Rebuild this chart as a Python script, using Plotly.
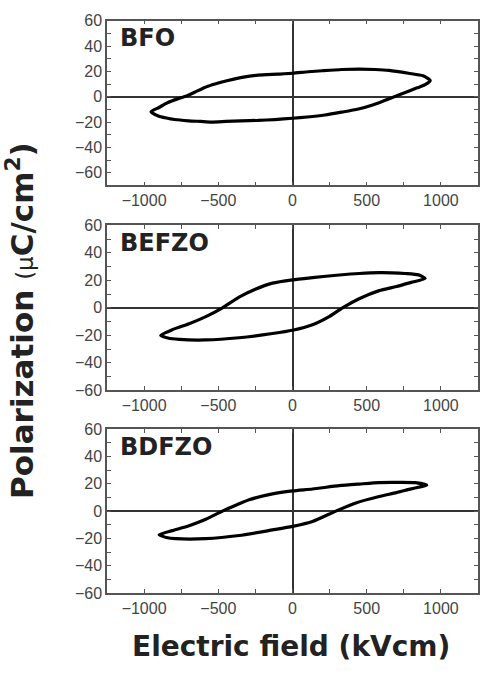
import plotly.graph_objects as go

W, H = 489, 680

# ---- data ----
bfo_E = [928, 880, 782, 650, 556, 450, 331, 200, 106, 0, -100, -232, -330, -435, -500, -570, -640, -705, -770, -840, -900, -953,
         -908, -850, -795, -700, -620, -547, -450, -350, -232, -120, 0, 100, 218, 330, 444, 540, 620, 669, 720, 782, 840, 894, 928]
bfo_P = [12.8, 16.5, 18.5, 20.8, 21.5, 21.8, 21.5, 20.5, 19.7, 18.5, 17.8, 17.0, 15.5, 12.8, 10.8, 8.2, 4.6, 1.0, -1.5, -4.6, -8.5, -11.8,
         -15.0, -16.8, -18.0, -19.0, -19.5, -20.0, -19.5, -19.0, -18.7, -18.0, -17.0, -16.0, -14.4, -12.2, -9.7, -6.5, -3.0, -0.8, 1.5, 4.4, 7.0, 9.5, 12.8]

befzo_E = [894, 849, 760, 669, 584, 450, 315, 135, 0, -135, -247, -360, -472, -584, -697, -809, -888,
           -840, -764, -584, -360, -135, 0, 135, 247, 337, 449, 584, 700, 800, 894]
befzo_P = [21.4, 24.0, 25.0, 25.5, 25.6, 25.0, 23.9, 22.0, 20.4, 18.0, 13.7, 7.8, 0.0, -6.4, -11.6, -15.9, -20.1,
           -22.0, -23.0, -23.4, -21.8, -18.7, -16.3, -12.3, -6.4, 0.0, 6.6, 12.5, 15.5, 18.5, 21.4]

bdfzo_E = [905, 827, 700, 584, 450, 315, 135, 0, -135, -292, -382, -472, -584, -697, -809, -899,
           -850, -787, -584, -360, -135, 0, 135, 292, 427, 584, 700, 800, 905]
bdfzo_P = [19.0, 20.8, 21.0, 20.9, 19.8, 18.6, 16.2, 14.8, 12.6, 8.3, 4.3, 0.0, -6.0, -10.7, -14.3, -17.4,
           -19.3, -20.2, -20.2, -17.9, -13.8, -11.2, -7.6, 0.0, 6.0, 10.7, 13.5, 16.3, 19.0]

labels = ["BFO", "BEFZO", "BDFZO"]
y_ranges = [[-70, 60], [-60, 60], [-60, 60]]
x_range = [-1250, 1250]
x_ticks = [-1000, -500, 0, 500, 1000]
y_ticks = [-60, -40, -20, 0, 20, 40, 60]

# ---- layout geometry (pixels) ----
px_left, px_right = 107, 478
panels_px = [(13, 182), (223, 392), (432, 600)]

def fy(py):
    return 1 - py / H

fig = go.Figure()
series = [(bfo_E, bfo_P), (befzo_E, befzo_P), (bdfzo_E, bdfzo_P)]
tickfont = dict(family="Liberation Sans, Arial", size=16, color="#444")
bold = "DejaVu Sans, Liberation Sans, Arial"

for i, (E, P) in enumerate(series):
    n = "" if i == 0 else str(i + 1)
    fig.add_trace(go.Scatter(x=E, y=P, mode="lines", xaxis="x" + n, yaxis="y" + n,
                             line=dict(color="black", width=3.2, shape="spline", smoothing=0.6),
                             showlegend=False))
    top, bot = panels_px[i]
    common = dict(showline=True, linecolor="#555", linewidth=1.5, mirror="ticks",
                  ticks="inside", ticklen=4, tickcolor="#555", tickwidth=1,
                  showgrid=False, zeroline=True, zerolinecolor="#333", zerolinewidth=1.5,
                  tickfont=tickfont)
    fig.update_layout(**{
        "xaxis" + n: dict(domain=[px_left / W, px_right / W], anchor="y" + n, range=x_range,
                          tickvals=x_ticks, minor=dict(dtick=250, tick0=0, ticks="inside", ticklen=4, tickcolor="#555"),
                          **common),
        "yaxis" + n: dict(domain=[fy(bot), fy(top)], anchor="x" + n, range=y_ranges[i],
                          tickvals=y_ticks, minor=dict(dtick=10, tick0=0, ticks="inside", ticklen=4, tickcolor="#555"),
                          **common),
    })
    fig.add_annotation(text="<b>" + labels[i] + "</b>", xref="paper", yref="paper",
                       x=118 / W, y=fy(top + 18), xanchor="left", yanchor="middle", showarrow=False,
                       font=dict(family=bold, size=24, color="#222"))

fig.add_annotation(text="<b>Electric field (kVcm)</b>", xref="paper", yref="paper",
                   x=291 / W, y=fy(655), xanchor="center", yanchor="middle", showarrow=False,
                   font=dict(family=bold, size=28, color="#222"))
fig.add_annotation(text="<b>Polarization</b> <span style='font-size:23px'>(μ</span><b>C/cm<sup>2</sup>)</b>",
                   xref="paper", yref="paper", textangle=-90,
                   x=20 / W, y=fy(321), xanchor="center", yanchor="middle", showarrow=False,
                   font=dict(family=bold, size=31, color="#222"))

fig.update_layout(width=W, height=H, margin=dict(l=0, r=0, t=0, b=0),
                  paper_bgcolor="white", plot_bgcolor="white")

fig.write_html("out.html")
